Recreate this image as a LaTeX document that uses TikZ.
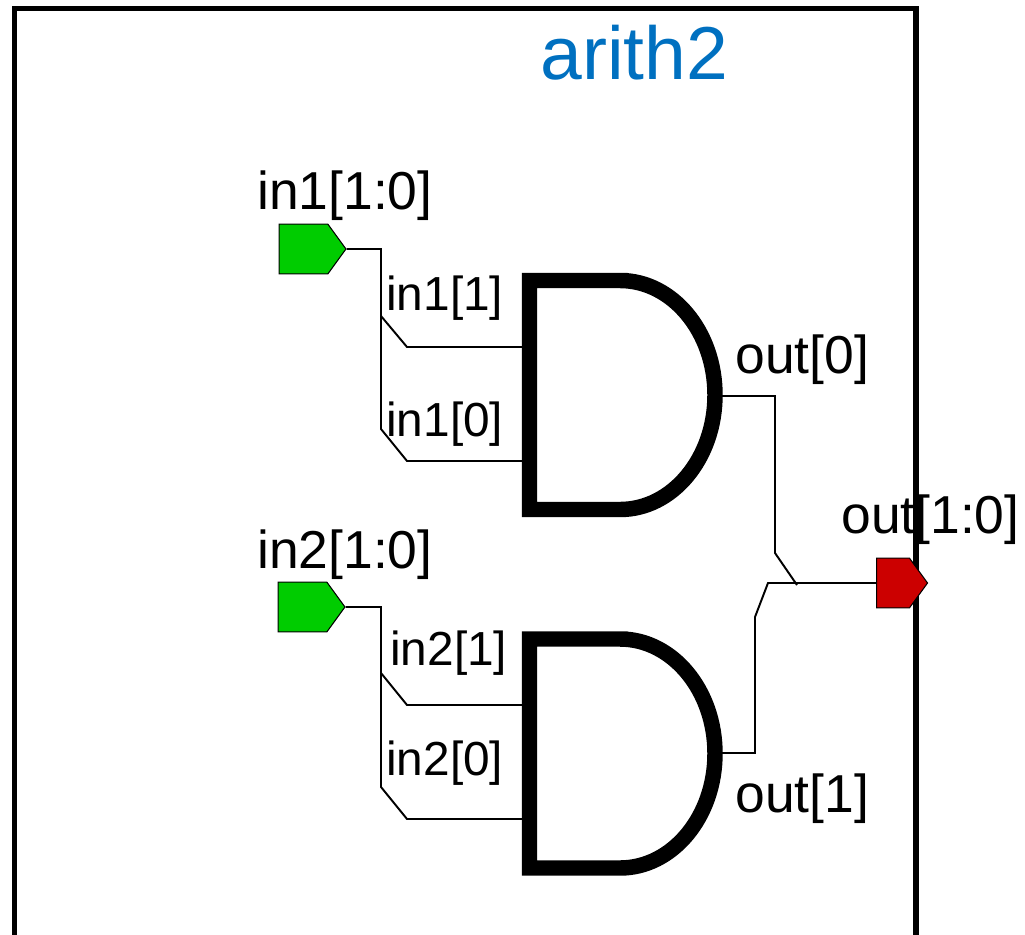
\documentclass[tikz,border=0pt]{standalone}
\usepackage{fontspec}
\usepackage{xcolor}
\usepackage{tikz}
\usetikzlibrary{shapes.symbols}
\setmainfont{Liberation Sans}
\definecolor{portgreen}{HTML}{00CC00}
\definecolor{portred}{HTML}{CC0000}
\definecolor{titleblue}{HTML}{0070C0}
\tikzset{
	port/.style={signal, signal to=east, signal pointer angle=108, draw=black, line width=0.6pt, inner sep=0pt, minimum width=38pt, minimum height=28.4pt},
	wire/.style={line width=1.1pt, line join=miter},
	gatebody/.style={line width=8.8pt, line join=miter},
	buslabel/.style={anchor=base west, inner sep=0pt, font=\fontsize{30.4}{32}\selectfont},
	pinlabel/.style={anchor=base west, inner sep=0pt, font=\fontsize{27.2}{30}\selectfont}
}

\begin{document}
\begin{tikzpicture}[x=0.02cm,y=-0.02cm]
		\useasboundingbox (0,0) rectangle (1025,934);
		\clip (0,0) rectangle (1025,934);
		
		\draw[line width=2.9pt] (14.5,945) -- (14.5,8.5) -- (916,8.5) -- (916,945);
		\node[anchor=base west, inner sep=0pt, text=titleblue, font=\fontsize{42.7}{46}\selectfont] (title) at (540,79) {arith2};
		
		\foreach \g/\y/\z in {0/0/396, 1/358.5/753}{
			\draw[gatebody] (620,280.5+\y) -- (529.5,280.5+\y) -- (529.5,509.5+\y) -- (620,509.5+\y) arc (-90:90:95 and -114.5) -- cycle;
			\coordinate (g\g out) at (722,\z);
		}
		\coordinate (g0a) at (522,347);
		\coordinate (g0b) at (522,461);
		\coordinate (g1a) at (522,705);
		\coordinate (g1b) at (522,819);
		
		\node[port, fill=portgreen] (in1) at (303.5,249) {};
		\node[port, fill=portgreen] (in2) at (302.5,607) {};
		\node[port, fill=portred, minimum width=29pt] (out) at (893,583) {};
		
		\coordinate (j1) at (381,316);
		\coordinate (j2) at (381,673);
		\coordinate (merge) at (797,585);
		
		\draw[wire] (in1.east) -- (381,249) -- (j1) -- (407,347) -- (g0a);
		\draw[wire] (j1) -- (381,429) -- (407,461) -- (g0b);
		\draw[wire] (in2.east) -- (381,607) -- (j2) -- (407,705) -- (g1a);
		\draw[wire] (j2) -- (381,787) -- (407,819) -- (g1b);
		\draw[wire] (g0out) -- (775,396) -- (775,553) -- (merge);
		\draw[wire] (g1out) -- (755,753) -- (755,617) -- (768,583) -- (out.west);
		
		\node[buslabel] (l1) at (257,209) {in1[1:0]};
		\node[buslabel] (l2) at (257,568) {in2[1:0]};
		\node[buslabel] (l3) at (841,533) {out[1:0]};
		\node[buslabel] (l4) at (735,373) {out[0]};
		\node[buslabel] (l5) at (735,812) {out[1]};
		\node[pinlabel] (l6) at (386,310) {in1[1]};
		\node[pinlabel] (l7) at (386,436) {in1[0]};
		\node[pinlabel] (l8) at (390,665) {in2[1]};
		\node[pinlabel] (l9) at (386,775) {in2[0]};
	\end{tikzpicture}
\end{document}
